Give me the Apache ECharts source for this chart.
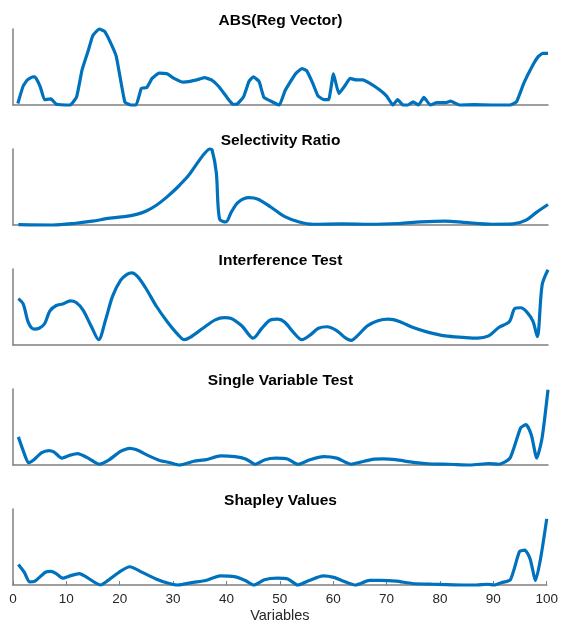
<!DOCTYPE html>
<html>
<head>
<meta charset="utf-8">
<script src="https://cdn.jsdelivr.net/npm/echarts@6/dist/echarts.min.js"></script>
<style>
html,body{margin:0;padding:0;background:#fff;}
#chart{width:561px;height:627px;}
</style>
</head>
<body>
<div id="chart"></div>
<script>
const titles = ['ABS(Reg Vector)', 'Selectivity Ratio', 'Interference Test', 'Single Variable Test', 'Shapley Values'];
const xTicks = [0, 10, 20, 30, 40, 50, 60, 70, 80, 90, 100];
const xLabel = 'Variables';

const absRegVector = [
  [0.9,0.02],[1.9,0.25],[2.7,0.33],[3.7,0.37],[4.1,0.37],[5.1,0.24],[5.9,0.07],[7.1,0.08],[8.1,0.01],[10.7,0.0],
  [11.9,0.11],[12.9,0.46],[14.0,0.70],[14.9,0.91],[16.1,1.0],[17.1,0.97],[18.1,0.84],[19.3,0.64],[20.9,0.04],[22.0,0.0],
  [23.0,0.0],[24.0,0.22],[25.0,0.23],[26.0,0.35],[27.3,0.42],[28.8,0.41],[30.1,0.35],[31.8,0.30],[33.1,0.31],[34.8,0.34],
  [35.8,0.36],[37.1,0.33],[38.5,0.24],[40.1,0.09],[41.1,0.01],[41.8,0.01],[43.1,0.11],[44.1,0.31],[44.9,0.37],[46.0,0.31],
  [46.9,0.10],[48.5,0.04],[49.8,0.0],[50.8,0.18],[51.8,0.30],[52.8,0.41],[54.0,0.48],[54.9,0.45],[56.0,0.29],[57.0,0.12],
  [58.1,0.07],[59.0,0.07],[59.9,0.41],[60.9,0.15],[62.0,0.25],[63.0,0.35],[64.2,0.33],[65.4,0.33],[66.8,0.28],[68.5,0.20],
  [69.8,0.12],[71.0,0.0],[71.9,0.07],[72.9,0.0],[73.8,0.0],[74.8,0.04],[75.8,0.0],[76.8,0.10],[78.0,0.0],[79.2,0.03],
  [80.8,0.03],[81.8,0.05],[83.5,0.0],[86.2,0.005],[89.5,0.0],[92.9,0.0],[94.1,0.04],[95.5,0.29],[97.2,0.53],[98.2,0.64],
  [99.0,0.68],[100.0,0.68]
];
const selectivityRatio = [
  [1.0,0.005],[7.4,0.0],[11.4,0.02],[14.8,0.05],[18.1,0.09],[20.8,0.11],[23.1,0.14],[24.8,0.18],[26.8,0.26],[28.8,0.37],
  [30.8,0.50],[32.8,0.65],[34.4,0.81],[35.8,0.94],[36.8,1.0],[37.2,0.99],[38.0,0.69],[38.6,0.08],[39.8,0.04],[40.8,0.17],
  [42.1,0.30],[44.1,0.36],[45.8,0.34],[48.1,0.24],[50.8,0.11],[53.5,0.04],[56.1,0.01],[61.5,0.015],[66.8,0.01],[72.2,0.02],
  [76.2,0.04],[80.8,0.05],[84.2,0.035],[89.5,0.01],[93.5,0.015],[95.8,0.06],[97.9,0.17],[100.0,0.27]
];
const interferenceTest = [
  [1.0,0.61],[1.9,0.54],[2.9,0.29],[3.9,0.21],[4.9,0.22],[5.9,0.28],[6.9,0.45],[8.1,0.52],[9.3,0.54],[10.7,0.58],
  [11.8,0.56],[13.1,0.46],[14.6,0.25],[16.0,0.07],[17.3,0.33],[18.6,0.64],[20.1,0.85],[21.3,0.93],[22.2,0.95],[23.3,0.90],
  [24.8,0.75],[26.8,0.51],[28.8,0.31],[30.8,0.14],[32.0,0.07],[33.1,0.10],[35.5,0.22],[37.8,0.33],[39.5,0.36],[40.8,0.35],
  [42.8,0.25],[44.9,0.09],[46.5,0.22],[48.1,0.33],[49.5,0.34],[50.8,0.30],[52.5,0.16],[54.0,0.07],[55.5,0.13],[57.1,0.22],
  [58.7,0.24],[60.5,0.19],[62.0,0.10],[63.2,0.06],[64.5,0.13],[66.2,0.25],[68.2,0.32],[70.2,0.34],[72.2,0.31],[74.8,0.23],
  [77.5,0.17],[80.8,0.12],[84.2,0.10],[86.8,0.09],[88.9,0.12],[90.8,0.23],[92.8,0.31],[93.8,0.48],[94.9,0.49],[96.1,0.43],
  [97.2,0.31],[98.0,0.11],[98.9,0.79],[100.0,0.99]
];
const singleVariableTest = [
  [1.0,0.37],[1.9,0.19],[2.9,0.03],[3.9,0.07],[5.3,0.16],[6.7,0.19],[7.7,0.17],[9.1,0.09],[10.7,0.13],[12.1,0.15],
  [13.8,0.10],[16.1,0.01],[17.8,0.06],[20.1,0.18],[21.8,0.22],[23.1,0.20],[25.1,0.13],[27.4,0.06],[29.4,0.03],[31.1,0.0],
  [33.8,0.05],[36.1,0.07],[38.8,0.12],[41.5,0.11],[43.5,0.08],[45.3,0.01],[47.1,0.07],[49.1,0.09],[51.3,0.08],[53.3,0.01],
  [55.5,0.07],[58.1,0.11],[60.5,0.09],[63.2,0.01],[64.8,0.035],[67.2,0.075],[69.2,0.08],[71.5,0.07],[74.8,0.035],[78.2,0.013],
  [81.5,0.01],[85.5,0.0],[88.9,0.02],[90.9,0.01],[92.9,0.09],[94.9,0.49],[95.9,0.53],[96.9,0.39],[97.9,0.09],[98.9,0.36],
  [100.0,0.99]
];
const shapleyValues = [
  [1.0,0.27],[2.1,0.17],[3.1,0.04],[4.1,0.05],[6.1,0.17],[7.1,0.18],[8.1,0.15],[9.3,0.09],[10.7,0.12],[12.4,0.15],
  [13.4,0.12],[16.4,0.0],[17.8,0.06],[20.1,0.18],[21.9,0.24],[24.1,0.17],[26.8,0.08],[28.8,0.03],[30.8,0.0],[33.8,0.035],
  [36.1,0.06],[38.8,0.12],[41.5,0.11],[43.5,0.06],[45.1,0.0],[47.1,0.07],[49.5,0.09],[51.5,0.08],[53.3,0.0],[55.5,0.06],
  [58.1,0.12],[60.1,0.10],[62.5,0.035],[64.2,0.0],[66.8,0.06],[68.8,0.06],[71.8,0.05],[74.8,0.02],[78.8,0.01],[84.2,0.0],
  [86.8,0.0],[88.9,0.01],[90.2,0.0],[91.5,0.03],[93.2,0.07],[94.9,0.44],[95.9,0.46],[96.9,0.34],[97.9,0.06],[98.9,0.37],
  [100.0,0.87]
];
const seriesData = [absRegVector, selectivityRatio, interferenceTest, singleVariableTest, shapleyValues];
const smoothing = [0.12, 0.3, 0.3, 0.2, 0.2];

const panelTops = [29, 149, 269, 389, 509];
const panelHeight = 76;
const font = 'Liberation Sans, Arial, Helvetica, sans-serif';
const axisGrey = '#7f7f7f';

const chart = echarts.init(document.getElementById('chart'), null, {renderer: 'canvas'});
const option = {
  backgroundColor: '#ffffff',
  animation: false,
  title: titles.map((t, i) => ({
    text: t,
    left: 'center',
    top: panelTops[i] - 21,
    textStyle: {fontFamily: font, fontSize: 15.5, fontWeight: 'bold', color: '#000'}
  })),
  grid: panelTops.map(t => ({left: 13, right: 13, top: t, height: panelHeight, containLabel: false})),
  xAxis: panelTops.map((t, i) => ({
    gridIndex: i,
    type: 'value',
    min: 0, max: 100, interval: 10,
    axisLine: {show: true, onZero: false, lineStyle: {color: axisGrey, width: 1.5}},
    axisTick: {show: i === 4, inside: true, length: 4, lineStyle: {color: axisGrey, width: 1}},
    axisLabel: {show: i === 4, color: '#262626', fontFamily: font, fontSize: 13.5, margin: 7,
      formatter: v => xTicks.includes(v) ? String(v) : ''},
    splitLine: {show: false},
    name: i === 4 ? xLabel : '',
    nameLocation: 'middle',
    nameGap: 23,
    nameTextStyle: {color: '#262626', fontFamily: font, fontSize: 14.5}
  })),
  yAxis: panelTops.map((t, i) => ({
    gridIndex: i,
    type: 'value',
    min: 0, max: 1,
    axisLine: {show: true, lineStyle: {color: axisGrey, width: 1.5}},
    axisTick: {show: false},
    axisLabel: {show: false},
    splitLine: {show: false}
  })),
  series: seriesData.map((d, i) => ({
    type: 'line',
    xAxisIndex: i,
    yAxisIndex: i,
    data: d,
    smooth: smoothing[i],
    showSymbol: false,
    clip: false,
    lineStyle: {color: '#0072BD', width: 3.2, join: 'round'}
  }))
};
chart.setOption(option);
</script>
</body>
</html>
